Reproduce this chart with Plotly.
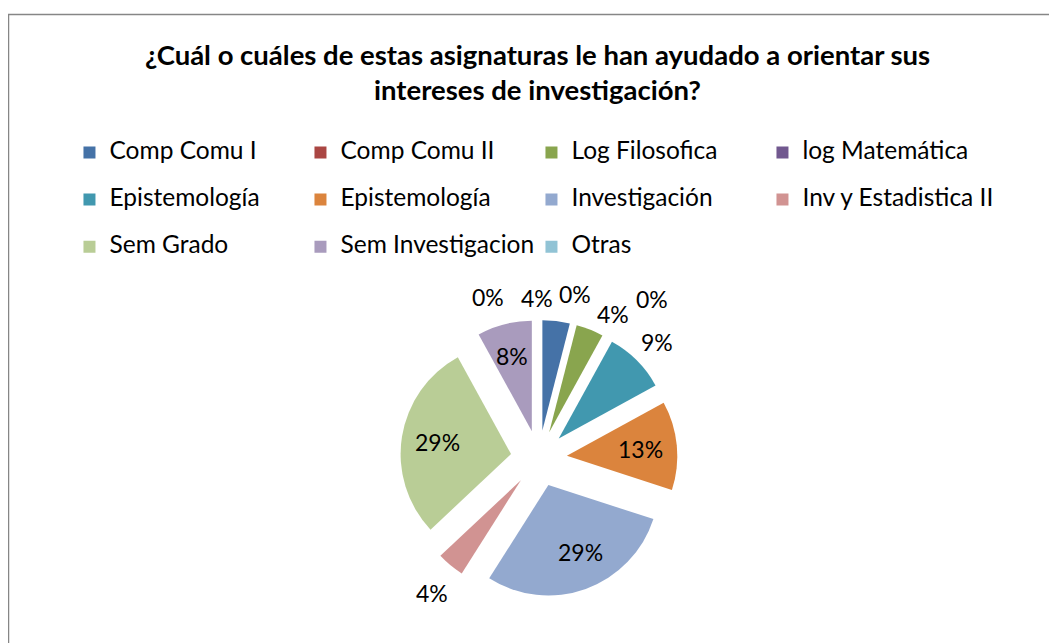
import math
import plotly.graph_objects as go

categories = ["Comp Comu I", "Comp Comu II", "Log Filosofica", "log Matemática",
              "Epistemología", "Epistemología", "Investigación", "Inv y Estadistica II",
              "Sem Grado", "Sem Investigacion", "Otras"]
percent_values = [4, 0, 4, 0, 9, 13, 29, 4, 29, 8, 0]
colors = ["#4572A7", "#AA4643", "#89A54E", "#71588F", "#4198AF", "#DB843D",
          "#93A9CF", "#D19392", "#B9CD96", "#A99BBD", "#91C3D5"]
# label layout (Excel "best fit"): angle offset in degrees, distance from centre in px
label_dtheta = [-7.7, -1.9, 5.6, 6.6, 0.6, 0, -4.0, -1.3, 0, 0, -17.4]
label_dist = [161, 168, 163, 196, 166, 102, 102, 172, 103, 106, 169]

title_text = ("¿Cuál o cuáles de estas asignaturas le han ayudado a orientar sus<br>"
              "intereses de investigación?")

FONT = "Lato"
W, H = 1049, 635          # page body has an 8px margin
PULL = 0.255
DOM_X = [0.3739, 0.6382]
DOM_Y = [0.0723, 0.5088]

# unique keys for legend labels (duplicates get zero-width spaces), styled larger
seen = {}
labels = []
for c in categories:
    n = seen.get(c, 0)
    seen[c] = n + 1
    labels.append('<span style="font-size:24.5px">' + c + "\u200b" * n + "</span><br> ")

total = sum(percent_values)
pct_text = ["{:.0f}%".format(100 * v / total) for v in percent_values]

fig = go.Figure(go.Pie(
    labels=labels,
    values=percent_values,
    sort=False,
    direction="clockwise",
    rotation=0,
    pull=PULL,
    marker=dict(colors=colors, line=dict(width=0)),
    textinfo="none",
    domain=dict(x=DOM_X, y=DOM_Y),
    hoverinfo="label+percent",
))

# data labels positioned from the slice angles
cx = (DOM_X[0] + DOM_X[1]) / 2 * W
cy = (1 - (DOM_Y[0] + DOM_Y[1]) / 2) * H
annotations = []
cum = 0
for i, v in enumerate(percent_values):
    mid = (cum + v / 2) / total * 360
    cum += v
    ang = math.radians(mid + label_dtheta[i])
    px = cx + label_dist[i] * math.sin(ang)
    py = cy - label_dist[i] * math.cos(ang)
    annotations.append(dict(x=px / W, y=1 - py / H, xref="paper", yref="paper",
                            text=pct_text[i], showarrow=False,
                            xanchor="center", yanchor="middle",
                            font=dict(family=FONT, size=23, color="black")))

fig.update_layout(
    width=W, height=H,
    margin=dict(l=0, r=0, t=0, b=0),
    paper_bgcolor="white",
    plot_bgcolor="white",
    font=dict(family=FONT, color="black"),
    title=dict(text=title_text, x=0.5048, xanchor="center", y=0.911, yanchor="top",
               yref="container",
               font=dict(family=FONT, size=27.5, color="black", weight="bold")),
    legend=dict(orientation="h", x=0.0586, xanchor="left", y=0.8002, yanchor="top",
                entrywidth=186, entrywidthmode="pixels", valign="top",
                font=dict(family=FONT, size=17, color="black"),
                bgcolor="rgba(0,0,0,0)"),
    annotations=annotations,
    shapes=[dict(type="rect", xref="paper", yref="paper",
                 x0=0.5 / W, x1=1.01, y0=-0.02, y1=1 - 6.5 / H,
                 line=dict(color="#868686", width=1.5), fillcolor="rgba(0,0,0,0)",
                 layer="below")],
)

fig.write_html("out.html")
